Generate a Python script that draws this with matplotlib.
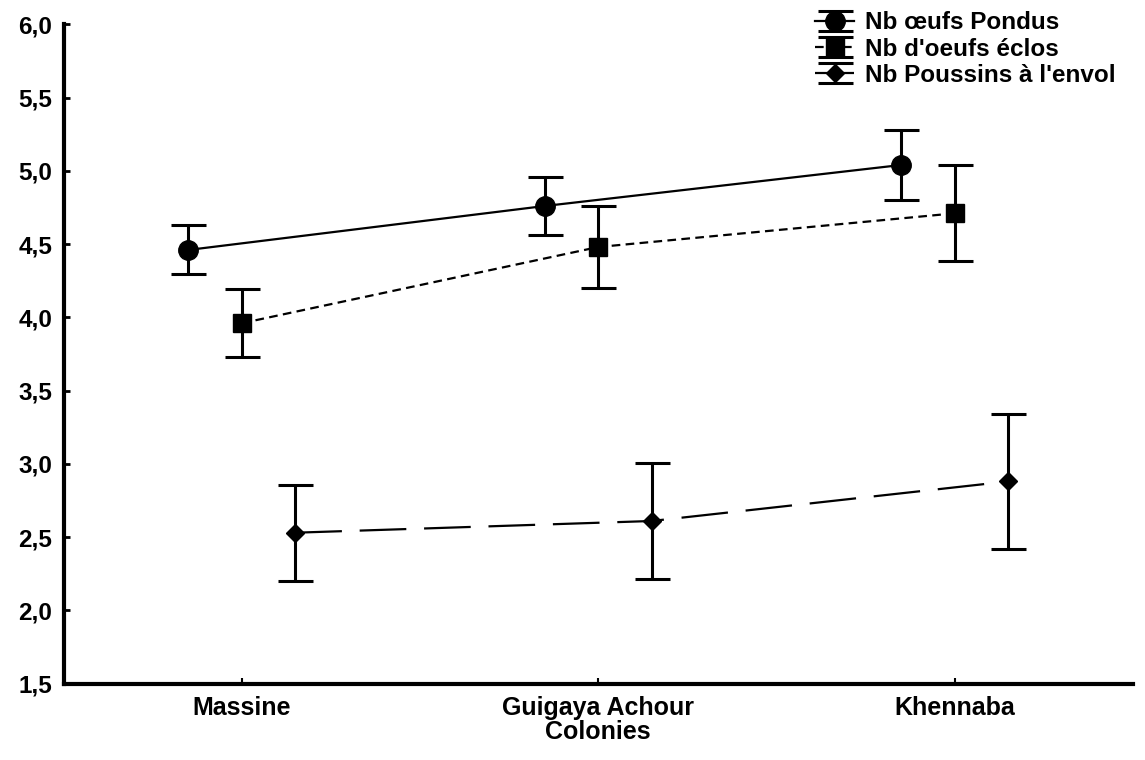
import numpy as np
import matplotlib
matplotlib.use("Agg")
import matplotlib.pyplot as plt
from matplotlib.ticker import FuncFormatter
from matplotlib.container import ErrorbarContainer
from matplotlib.legend_handler import HandlerErrorbar

plt.rcParams["font.family"] = ["Liberation Sans", "DejaVu Sans"]
plt.rcParams["font.weight"] = "bold"

colonies = ["Massine", "Guigaya Achour", "Khennaba"]

pondus_mean = [4.46, 4.76, 5.04]
pondus_err = [0.167, 0.20, 0.237]
eclos_mean = [3.96, 4.48, 4.71]
eclos_err = [0.232, 0.28, 0.328]
envol_mean = [2.53, 2.61, 2.88]
envol_err = [0.327, 0.395, 0.461]

series = [
    ("Nb œufs Pondus", pondus_mean, pondus_err, "o", 14, "-", -0.15),
    ("Nb d'oeufs éclos", eclos_mean, eclos_err, "s", 13, (0, (3.9, 2.4)), 0.0),
    ("Nb Poussins à l'envol", envol_mean, envol_err, "D", 9.5, (0, (21, 8)), 0.15),
]

fig = plt.figure(figsize=(11.45, 7.6), dpi=100)
ax = fig.add_axes([0.0555, 0.1005, 0.934, 0.8675])

x = np.arange(len(colonies))
for label, mean, err, mk, ms, ls, dx in series:
    ax.errorbar(x + dx, mean, yerr=err, color="black", marker=mk, markersize=ms,
                linestyle=ls, linewidth=1.6, elinewidth=2.2, capsize=12.6,
                capthick=2.2, label=label)

ax.set_xlim(-0.5, 2.5)
ax.set_ylim(1.5, 6.0)
ax.set_xticks(x)
ax.set_xticklabels(colonies, fontsize=18, fontweight="bold")
ax.set_yticks(np.arange(1.5, 6.01, 0.5))
ax.yaxis.set_major_formatter(FuncFormatter(lambda v, p: f"{v:.1f}".replace(".", ",")))
ax.tick_params(axis="y", direction="in", length=4, width=2, labelsize=17.5, pad=8)
ax.tick_params(axis="x", direction="in", length=4, width=1.5, pad=9)
for t in ax.get_yticklabels():
    t.set_fontweight("bold")

for side in ["top", "right"]:
    ax.spines[side].set_visible(False)
for side in ["left", "bottom"]:
    ax.spines[side].set_linewidth(3)

ax.set_xlabel("Colonies", fontsize=18, fontweight="bold", labelpad=0)

fig.legend(loc="upper left", bbox_to_anchor=(0.712, 0.985), frameon=False,
           prop={"size": 17.5, "weight": "bold"}, handlelength=1.6,
           handletextpad=0.45, borderpad=0, borderaxespad=0, labelspacing=0.13,
           handler_map={ErrorbarContainer: HandlerErrorbar(yerr_size=0.4)})

fig.savefig("out.png", dpi=100)
